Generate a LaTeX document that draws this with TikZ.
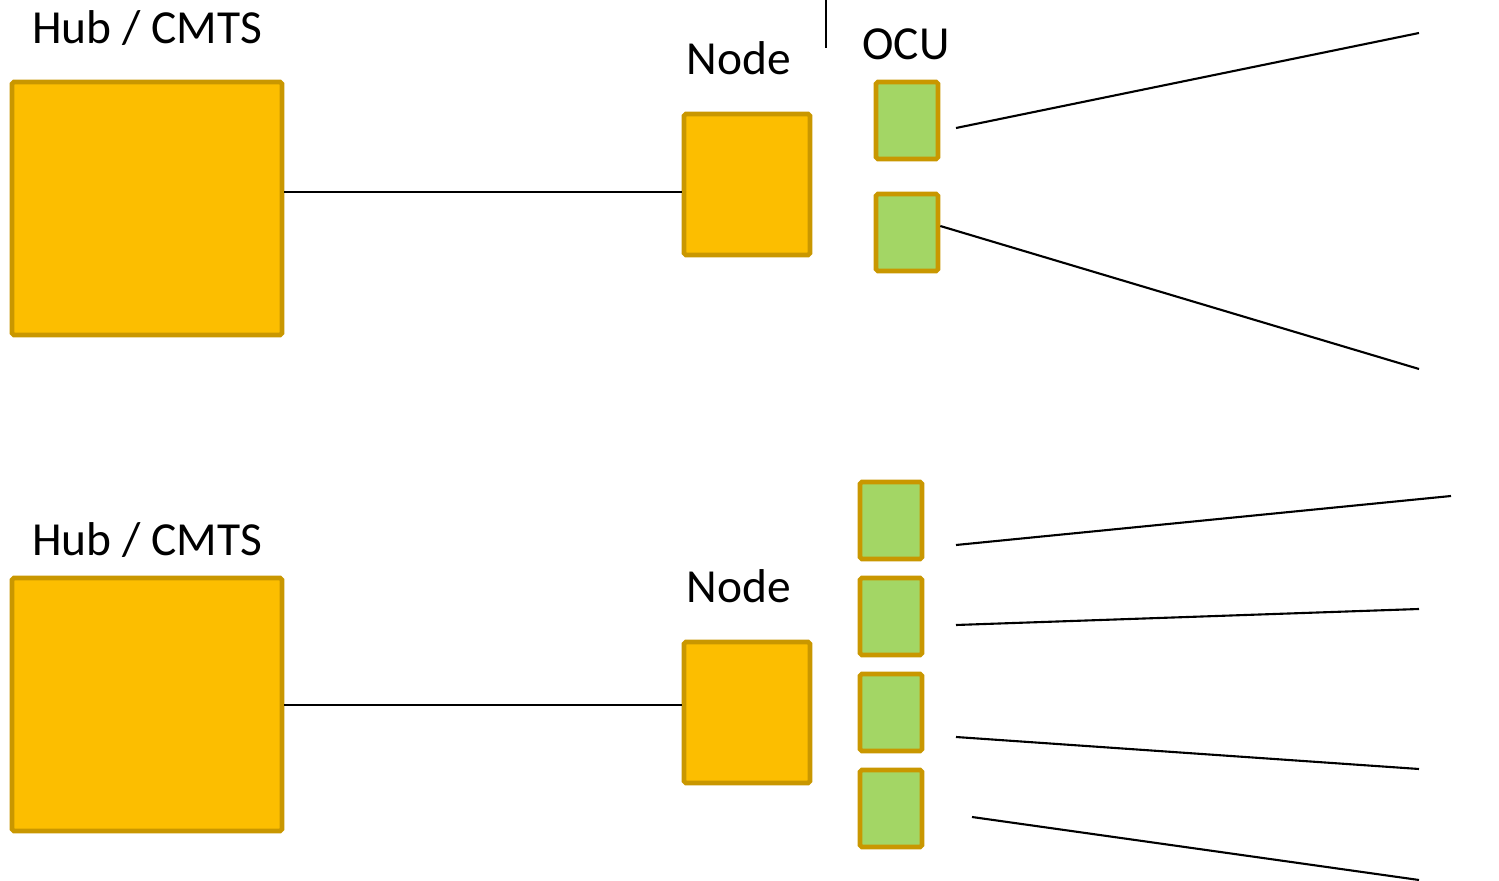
\documentclass[tikz,border=0pt]{standalone}
\usepackage{fontspec}
\setmainfont{Carlito}
\usetikzlibrary{positioning}
\definecolor{hubfill}{HTML}{FCBE00}
\definecolor{hubdraw}{HTML}{C99700}
\definecolor{ocufill}{HTML}{A3D665}
\tikzstyle{hub}=[rectangle,draw=hubdraw,fill=hubfill,line width=2.6pt,rounded corners=1pt,minimum width=5.4cm,minimum height=5.06cm,inner sep=0pt]
\tikzstyle{fnode}=[hub,minimum width=2.52cm,minimum height=2.82cm]
\tikzstyle{ocu}=[hub,fill=ocufill,minimum width=1.24cm,minimum height=1.54cm]
\tikzstyle{label}=[anchor=base,inner sep=0pt,font=\fontsize{27pt}{32pt}\selectfont]
\tikzstyle{wire}=[line width=1.2pt]

\begin{document}
\begin{tikzpicture}[x=0.02cm,y=-0.02cm]
		\useasboundingbox (0,0) rectangle (1499,881);
		% upper plant
		\node[hub] (hubA) at (147,208.5) {};
		\node[fnode] (nodeA) at (747,184.5) {};
		\node[ocu] (ocuA1) at (907,120.5) {};
		\node[ocu] (ocuA2) at (907,232.5) {};
		\node[label] (hubAlbl) at (147,44) {Hub / CMTS};
		\node[label] (nodeAlbl) at (739,75) {Node};
		\node[label] (ocuAlbl) at (906,60) {OCU};
		\coordinate (feedA) at (0,192);
		\coordinate (markA) at (826,0);
		\coordinate (markB) at (826,48);
		\coordinate (a1s) at (956,128);
		\coordinate (a1e) at (1419,33);
		\coordinate (a2s) at (0,226);
		\coordinate (a2e) at (1419,369);
		\draw[wire] (hubA.east|-feedA)--(nodeA.west|-feedA);
		\draw[wire] (markA)--(markB);
		\draw[wire] (a1s)--(a1e);
		\draw[wire] (ocuA2.east|-a2s)--(a2e);
		% lower plant
		\node[hub] (hubB) at (147,704.5) {};
		\node[fnode] (nodeB) at (747,712.5) {};
		\node[ocu] (ocuB1) at (891,520.5) {};
		\node[ocu] (ocuB2) at (891,616.5) {};
		\node[ocu] (ocuB3) at (891,712.5) {};
		\node[ocu] (ocuB4) at (891,808.5) {};
		\node[label] (hubBlbl) at (147,556) {Hub / CMTS};
		\node[label] (nodeBlbl) at (739,603) {Node};
		\coordinate (feedB) at (0,705);
		\coordinate (b1s) at (956,545);
		\coordinate (b1e) at (1451,496);
		\coordinate (b2s) at (956,625);
		\coordinate (b2e) at (1419,609);
		\coordinate (b3s) at (956,737);
		\coordinate (b3e) at (1419,769);
		\coordinate (b4s) at (972,817);
		\coordinate (b4e) at (1419,880);
		\draw[wire] (hubB.east|-feedB)--(nodeB.west|-feedB);
		\draw[wire] (b1s)--(b1e);
		\draw[wire] (b2s)--(b2e);
		\draw[wire] (b3s)--(b3e);
		\draw[wire] (b4s)--(b4e);
	\end{tikzpicture}
\end{document}
